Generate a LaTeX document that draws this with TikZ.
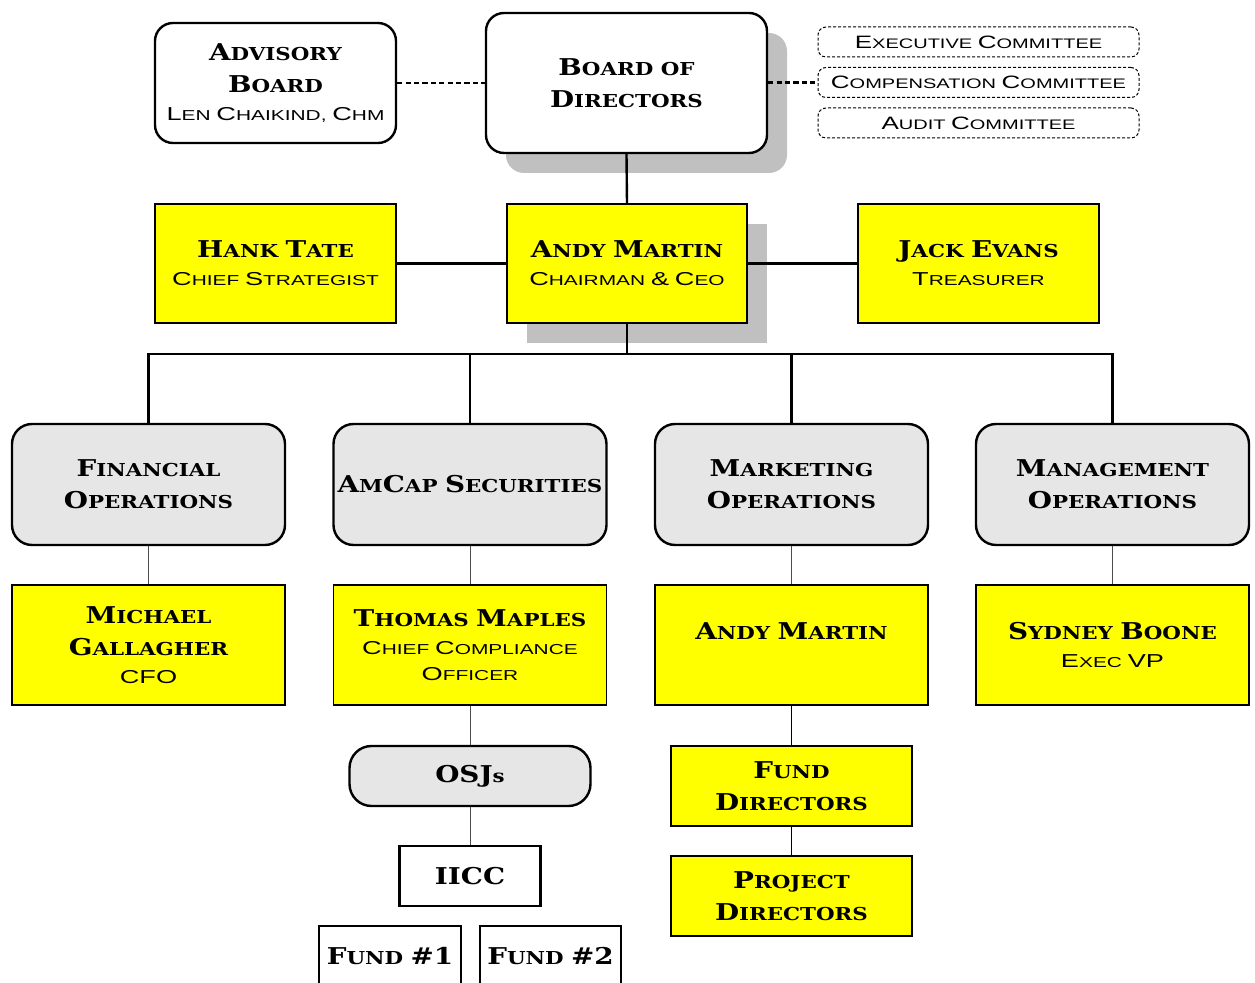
\documentclass[tikz,border=0pt]{standalone}
\usepackage{fontspec}
\usetikzlibrary{shadows}
\newfontfamily\hfont[FakeStretch=1.2]{DejaVu Serif}
\newfontfamily\lfont[FakeStretch=1.45]{Liberation Sans}
\definecolor{yel}{HTML}{FFFF00}
\definecolor{divgrey}{HTML}{E6E6E6}
\definecolor{shgrey}{HTML}{C0C0C0}
\makeatletter
\newcommand\K[1]{{\fontsize{\strip@pt\dimexpr1.3\dimexpr\f@size pt\relax\relax}{\f@baselineskip}\selectfont#1}}
\makeatother
\newcommand\hd{\fontsize{8.9}{16}\selectfont\hfont\bfseries}
\newcommand\st{\fontsize{7.2}{13}\selectfont\lfont\mdseries}
\newcommand\ct{\fontsize{6.9}{13}\selectfont\lfont\mdseries}
\tikzset{
  every node/.style={inner sep=0pt, align=center, font=\hd},
  roundbox/.style={draw, line width=1.2pt, rounded corners=9pt, fill=white},
  divbox/.style={draw, line width=1.2pt, rounded corners=10pt, fill=divgrey, minimum width=136.5pt, minimum height=60.5pt},
  ybox/.style={draw, line width=0.7pt, fill=yel},
  pbox/.style={ybox, minimum width=136.5pt, minimum height=60pt},
  tbox/.style={ybox, minimum width=120.5pt, minimum height=59.5pt},
  cbox/.style={draw, line width=0.5pt, dash pattern=on 1.5pt off 1pt, rounded corners=4pt, minimum width=160.5pt, minimum height=15pt, font=\ct},
  wbox/.style={draw, line width=1.1pt, fill=white},
  thick line/.style={line width=1.2pt},
  thin line/.style={line width=0.5pt, black!70},
  dline/.style={line width=1.1pt, dash pattern=on 2.6pt off 1.6pt},
  shad/.style={drop shadow={fill=shgrey, opacity=1, shadow xshift=10pt, shadow yshift=-10pt}}
}
\begin{document}
\begin{tikzpicture}[x=0.5pt, y=-0.5pt]
\useasboundingbox (0,0) rectangle (1255,983);
\clip (0,0) rectangle (1255,983);
% top row
\node[roundbox, minimum width=120.5pt, minimum height=60pt] (adv) at (275.5,83) {\K{A}DVISORY\\\K{B}OARD\\[-2pt]{\st\K{L}EN \K{C}HAIKIND, \K{C}HM}};
\node[roundbox, shad, minimum width=140.5pt, minimum height=70pt] (bod) at (626.5,83) {\K{B}OARD OF\\\K{D}IRECTORS};
\node[cbox] (exe) at (978.5,42) {\K{E}XECUTIVE \K{C}OMMITTEE};
\node[cbox] (comp) at (978.5,82.5) {\K{C}OMPENSATION \K{C}OMMITTEE};
\node[cbox] (aud) at (978.5,123) {\K{A}UDIT \K{C}OMMITTEE};
\draw[dline] (adv.east) -- (adv.east -| bod.west);
\draw[dline] (comp.west -| bod.east) -- (comp.west);
% second row
\node[tbox] (hank) at (275.5,263.5) {\K{H}ANK \K{T}ATE\\[-2pt]{\st\K{C}HIEF \K{S}TRATEGIST}};
\node[tbox, shad, minimum width=120pt] (andy) at (627,263.5) {\K{A}NDY \K{M}ARTIN\\[-2pt]{\st\K{C}HAIRMAN \K{\&} \K{C}EO}};
\node[tbox] (jack) at (978.5,263.5) {\K{J}ACK \K{E}VANS\\[-2pt]{\st\K{T}REASURER}};
\draw[thick line] (bod.south) -- (andy.north);
\draw[thick line] (hank.east) -- (andy.west);
\draw[thick line] (andy.east) -- (jack.west);
% divisions
\node[divbox] (fin) at (148.5,484.5) {\K{F}INANCIAL\\\K{O}PERATIONS};
\node[divbox] (amc) at (470,484.5) {\K{A}M\K{C}AP \K{S}ECURITIES};
\node[divbox] (mkt) at (791.5,484.5) {\K{M}ARKETING\\\K{O}PERATIONS};
\node[divbox] (mgt) at (1112.5,484.5) {\K{M}ANAGEMENT\\\K{O}PERATIONS};
\coordinate (bus) at (627,354);
\draw[thick line] (andy.south) -- (bus);
\draw[thick line] (fin.north) |- (bus) -| (mgt.north);
\draw[thick line] (amc.north) -- (amc.north |- bus);
\draw[thick line] (mkt.north) -- (mkt.north |- bus);
% persons
\node[pbox] (mg) at (148.5,645) {\K{M}ICHAEL\\\K{G}ALLAGHER\\[-2pt]{\st\K{CFO}}};
\node[pbox] (tm) at (470,645) {\K{T}HOMAS \K{M}APLES\\[-2pt]{\st\K{C}HIEF \K{C}OMPLIANCE}\\[-3pt]{\st\K{O}FFICER}};
\node[pbox] (am) at (791.5,645) {\K{A}NDY \K{M}ARTIN\\[-2pt]{\st\phantom{X}}};
\node[pbox] (sb) at (1112.5,645) {\K{S}YDNEY \K{B}OONE\\[-2pt]{\st\K{E}XEC \K{VP}}};
\draw[thin line] (fin.south) -- (mg.north);
\draw[thin line] (amc.south) -- (tm.north);
\draw[thin line] (mkt.south) -- (am.north);
\draw[thin line] (mgt.south) -- (sb.north);
% lower
\node[draw, line width=1.2pt, rounded corners=11pt, fill=divgrey, minimum width=120.5pt, minimum height=30pt] (osj) at (470,776) {\K{OSJ}s};
\node[wbox, minimum width=70.5pt, minimum height=30pt] (iicc) at (470,876) {\K{IICC}};
\node[wbox, minimum width=71pt, minimum height=30pt] (f1) at (390,956) {\K{F}UND \K{\#1}};
\node[wbox, minimum width=70.5pt, minimum height=30pt] (f2) at (550.5,956) {\K{F}UND \K{\#2}};
\draw[thin line] (tm.south) -- (osj.north);
\draw[thin line] (osj.south) -- (iicc.north);
\node[ybox, minimum width=120.5pt, minimum height=40pt] (fd) at (791.5,786) {\K{F}UND\\\K{D}IRECTORS};
\node[ybox, minimum width=120.5pt, minimum height=40pt] (pd) at (791.5,896) {\K{P}ROJECT\\\K{D}IRECTORS};
\draw[thin line, black] (am.south) -- (fd.north);
\draw[thin line, black] (fd.south) -- (pd.north);
\end{tikzpicture}
\end{document}
